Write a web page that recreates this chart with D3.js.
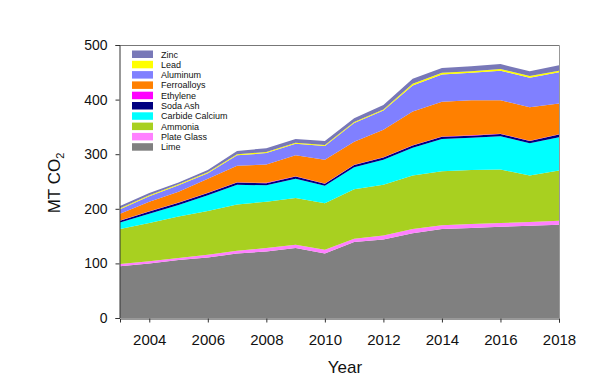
<!DOCTYPE html>
<html>
<head>
<meta charset="utf-8">
<script src="https://cdn.jsdelivr.net/npm/d3@7"></script>
<style>
  html, body { margin: 0; padding: 0; background: #fff; }
  svg { display: block; }
  text { font-family: "Liberation Sans", Arial, sans-serif; fill: #111; }
</style>
</head>
<body>
<svg id="chart" width="616" height="381"></svg>
<script>
const years = [2003,2004,2005,2006,2007,2008,2009,2010,2011,2012,2013,2014,2015,2016,2017,2018];
const lime        = [95,100,106,111,118,122,128,118,139,144,155,163,165,167,169,171];
const plateGlass  = [4,4,4,5,5,6,6,7,6,7,8,7,7,7,7,7];
const ammonia     = [64,70,76,80,85,85,86,85,91,93,98,99,99,98,85,92];
const carbide     = [12,17,21,29,36,30,35,32,40,46,51,59,59,61,59,61];
const sodaAsh     = [3,4,4,4,4,4,4,4,4,4,4,4,4,4,4,5];
const ethylene    = [0.5,0.5,0.5,0.5,0.5,0.5,0.5,0.5,0.5,0.5,0.5,0.5,0.5,0.5,0.5,0.5];
const ferroalloys = [12.5,17.5,19.5,25.5,30.5,33.5,38.5,43.5,42.5,50.5,61.5,63.5,64.5,61.5,61.5,56.5];
const aluminum    = [8,10,12,10,19,21,21,25,34,35,48,50,50,54,54,57];
const lead        = [2,2,2,2,2,2,2,2,2,2,3,3,3,3,3,3];
const zinc        = [4,4,3,4,6,7,7,7,7,8,9,9,9,9,9,10];

const seriesNames = ["Lime","Plate Glass","Ammonia","Carbide Calcium","Soda Ash","Ethylene","Ferroalloys","Aluminum","Lead","Zinc"];
const seriesValues = [lime, plateGlass, ammonia, carbide, sodaAsh, ethylene, ferroalloys, aluminum, lead, zinc];
const seriesColors = ["#808080","#ff80ff","#a8d020","#00ffff","#000080","#ff00ff","#ff8000","#8080ff","#ffff00","#7878b8"];
const yTicks = [0,100,200,300,400,500];
const xTicks = [2004,2006,2008,2010,2012,2014,2016,2018];

const table = years.map((yr, i) => {
  const row = { year: yr };
  seriesNames.forEach((n, k) => row[n] = seriesValues[k][i]);
  return row;
});

const svg = d3.select("#chart");
const x = d3.scaleLinear().domain([2003, 2018]).range([120, 559]);
const y = d3.scaleLinear().domain([0, 500]).range([318, 45]);

const stacked = d3.stack().keys(seriesNames)(table);
const area = d3.area()
  .x(d => x(d.data.year))
  .y0(d => y(d[0]))
  .y1(d => y(d[1]));

svg.append("g").selectAll("path")
  .data(stacked)
  .join("path")
  .attr("d", area)
  .attr("fill", (d, i) => seriesColors[i]);

// frame top and right
svg.append("line").attr("x1", 119.5).attr("x2", 559.5).attr("y1", 45.5).attr("y2", 45.5)
  .attr("stroke", "#777").attr("stroke-width", 1);
svg.append("line").attr("x1", 559.5).attr("x2", 559.5).attr("y1", 45.5).attr("y2", 318)
  .attr("stroke", "#999").attr("stroke-width", 1);

// axes
const yAxis = d3.axisLeft(y).tickValues(yTicks).tickSize(4).tickPadding(8).tickFormat(d3.format("d"));
const gy = svg.append("g").attr("transform", "translate(119.5,0)").call(yAxis);
gy.selectAll("text").style("font-size", "14px").attr("fill", "#111");
gy.selectAll("line, path").attr("stroke", "#333");

const xAxis = d3.axisBottom(x).tickValues(xTicks).tickSize(4).tickPadding(12).tickFormat(d3.format("d"));
const gx = svg.append("g").attr("transform", "translate(0,318.5)").call(xAxis);
gx.selectAll("text").style("font-size", "15px").attr("fill", "#111");
gx.selectAll("line, path").attr("stroke", "#333");

// axis titles
svg.append("text").attr("x", 345).attr("y", 373).attr("text-anchor", "middle")
  .style("font-size", "17px").text("Year");
const yt = svg.append("text").attr("transform", "translate(60,183) rotate(-90)")
  .attr("text-anchor", "middle").style("font-size", "17px");
yt.append("tspan").text("MT CO");
yt.append("tspan").text("2").style("font-size", "11px").attr("dy", "4");

// legend (top to bottom reversed order)
const legendNames = seriesNames.slice().reverse();
const legendColors = seriesColors.slice().reverse();
const lg = svg.append("g");
legendNames.forEach((n, i) => {
  const cy = 54.3 + i * 10.3;
  lg.append("rect").attr("x", 132).attr("y", cy - 3.8).attr("width", 21).attr("height", 7.5)
    .attr("fill", legendColors[i]);
  lg.append("text").attr("x", 161).attr("y", cy + 3.2).style("font-size", "9px").text(n);
});
</script>
</body>
</html>
